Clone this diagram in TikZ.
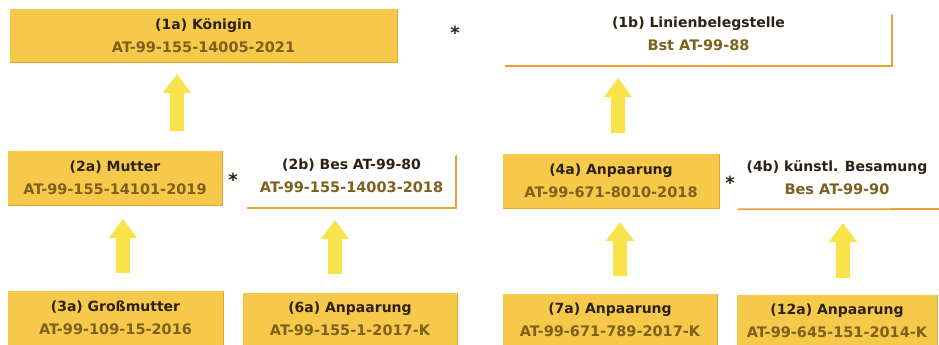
\documentclass[tikz,border=0pt]{standalone}
\usepackage{fontspec}
\setmainfont{DejaVu Sans}
\usetikzlibrary{arrows.meta}
\definecolor{boxfill}{RGB}{246,201,74}
\definecolor{boxedge}{RGB}{234,160,52}
\definecolor{arrowfill}{RGB}{250,226,74}
\definecolor{titlec}{RGB}{44,33,16}
\definecolor{idc}{RGB}{126,96,28}
\newcommand{\bxtext}[2]{\textcolor{titlec}{#1}\\\textcolor{idc}{\fontsize{14.5}{23}\selectfont #2}}
\begin{document}
\begin{tikzpicture}[x=1pt,y=-1pt,
  boxbase/.style={inner sep=0pt, align=center, draw=none,
    font=\bfseries\fontsize{14}{23}\selectfont},
  filled/.style={boxbase, fill=boxfill},
  plain/.style={boxbase, fill=none},
  edge/.style={draw=boxedge, line width=1.6pt},
  softedge/.style={draw=boxedge, line width=1pt},
  blockarrow/.style={draw=arrowfill, line width=14pt,
    -{Triangle[width=27pt,length=19pt]}},
  star/.style={font=\bfseries\fontsize{18}{18}\selectfont, text=titlec, inner sep=0pt}
]
\useasboundingbox (0,0) rectangle (939,345);

% row 1
\node[filled, minimum width=387pt, minimum height=53pt] (n1a) at (203.5,35.5)
  {\bxtext{(1a) Königin}{AT-99-155-14005-2021}};
\node[plain, minimum width=387pt, minimum height=65pt] (n1b) at (698.5,33.5)
  {\bxtext{(1b) Linienbelegstelle}{Bst AT-99-88}};
\node[star] (s1) at (455,33) {*};

% row 2
\node[filled, minimum width=214pt, minimum height=54pt] (n2a) at (115,178)
  {\bxtext{(2a) Mutter}{AT-99-155-14101-2019}};
\node[plain, minimum width=209pt, minimum height=65pt] (n2b) at (351.5,175.5)
  {\bxtext{(2b) Bes AT-99-80}{AT-99-155-14003-2018}};
\node[star] (s2) at (233,180) {*};
\node[filled, minimum width=216pt, minimum height=54pt] (n4a) at (611,181)
  {\bxtext{(4a) Anpaarung}{AT-99-671-8010-2018}};
\node[plain, minimum width=198pt, minimum height=62pt] (n4b) at (837,178)
  {\bxtext{(4b) künstl. Besamung}{Bes AT-99-90}};
\node[star] (s3) at (730,183) {*};

% row 3
\node[filled, minimum width=215pt, minimum height=54pt] (n3a) at (115.5,318)
  {\bxtext{(3a) Großmutter}{AT-99-109-15-2016}};
\node[filled, minimum width=214pt, minimum height=52pt] (n6a) at (350,319)
  {\bxtext{(6a) Anpaarung}{AT-99-155-1-2017-K}};
\node[filled, minimum width=214pt, minimum height=52pt] (n7a) at (610,320)
  {\bxtext{(7a) Anpaarung}{AT-99-671-789-2017-K}};
\node[filled, minimum width=200pt, minimum height=51pt] (n12a) at (837,320.5)
  {\bxtext{(12a) Anpaarung}{AT-99-645-151-2014-K}};

% edges of the boxes
\foreach \n in {n1a,n2a,n4a,n3a,n6a,n7a,n12a}
  \draw[softedge] (\n.south west) -- (\n.south east) -- (\n.north east);
\coordinate (c1b) at (892,15);
\draw[edge] (n1b.south west) -- (n1b.south east) |- (c1b);
\coordinate (c2b) at (456,156);
\draw[edge] (n2b.south west) -- (n2b.south east) |- (c2b);
\coordinate (c4b) at (939,209);
\draw[edge] (n4b.south west) -- (c4b);

% block arrows
\coordinate (a1s) at (177,131); \coordinate (a1e) at (177,74);
\coordinate (b1s) at (618,133); \coordinate (b1e) at (618,78);
\coordinate (a2s) at (123,273); \coordinate (a2e) at (123,219);
\coordinate (b2s) at (335,274); \coordinate (b2e) at (335,220);
\coordinate (c2s) at (620,276); \coordinate (c2e) at (620,222);
\coordinate (d2s) at (843,278); \coordinate (d2e) at (843,223);
\foreach \s/\e in {a1s/a1e,b1s/b1e,a2s/a2e,b2s/b2e,c2s/c2e,d2s/d2e}
  \draw[blockarrow] (\s) -- (\e);
\end{tikzpicture}
\end{document}
